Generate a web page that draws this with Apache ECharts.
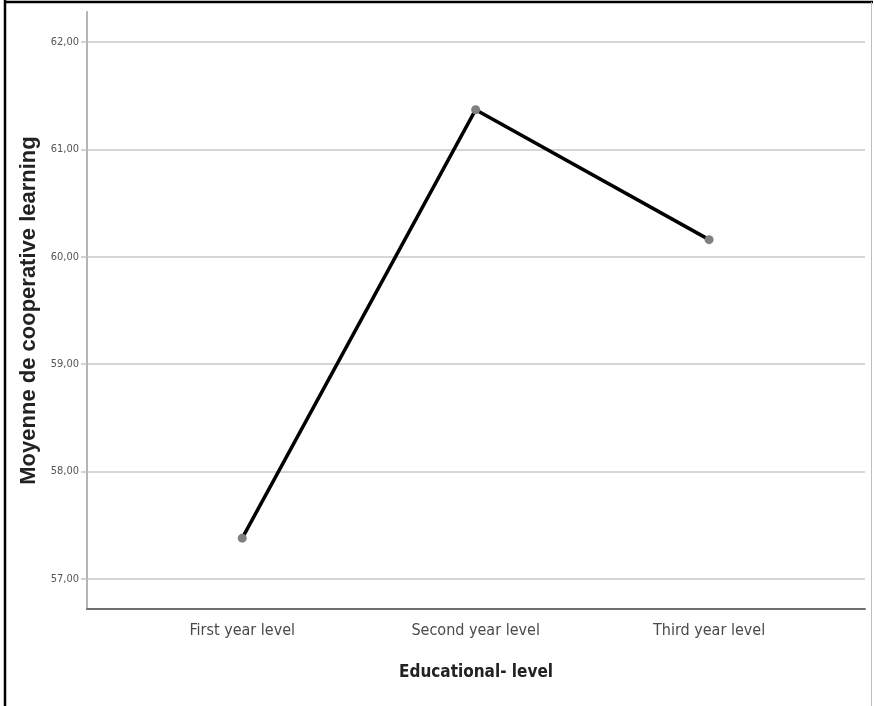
<!DOCTYPE html>
<html>
<head>
<meta charset="utf-8">
<script src="https://cdn.jsdelivr.net/npm/echarts@6/dist/echarts.min.js"></script>
<style>
html,body{margin:0;padding:0;background:#fff;}
#chart{width:874px;height:706px;}
</style>
</head>
<body>
<div id="chart"></div>
<script>
var categories = ['First year level', 'Second year level', 'Third year level'];
var means = [57.38, 61.37, 60.16];
var yTicks = [57, 58, 59, 60, 61, 62];
var yTickLabels = ['57,00', '58,00', '59,00', '60,00', '61,00', '62,00'];
var xTitle = 'Educational- level';
var yTitle = 'Moyenne de cooperative learning';

var points = categories.map(function (c, i) { return [i, means[i]]; });
var narrow = "'Liberation Sans Narrow', 'DejaVu Sans Condensed', 'Arial Narrow', sans-serif";

var chart = echarts.init(document.getElementById('chart'), null, {renderer: 'canvas'});
chart.setOption({
  backgroundColor: '#ffffff',
  animation: false,
  grid: {left: 87, right: 9, top: 12, bottom: 97},
  xAxis: {
    type: 'value',
    min: -0.665,
    max: 2.668,
    name: xTitle,
    nameLocation: 'middle',
    nameGap: 55,
    nameTextStyle: {fontFamily: narrow, fontWeight: 'bold', fontSize: 17, color: '#222'},
    axisLine: {show: true, onZero: false, lineStyle: {color: '#6e6e6e', width: 2}},
    axisTick: {show: false},
    splitLine: {show: false},
    axisLabel: {
      customValues: [0, 1, 2],
      formatter: function (v) { return categories[Math.round(v)]; },
      fontFamily: narrow, fontSize: 16, color: '#4a4a4a', margin: 14
    }
  },
  yAxis: {
    type: 'value',
    min: 56.72,
    max: 62.28,
    name: yTitle,
    nameLocation: 'middle',
    nameGap: 45,
    nameTextStyle: {fontFamily: "'Liberation Sans', Arial, sans-serif", fontWeight: 'bold', fontSize: 22, color: '#222'},
    axisLine: {show: true, onZero: false, lineStyle: {color: '#b4b4b4', width: 2}},
    axisTick: {show: true, customValues: yTicks, length: 6, lineStyle: {color: '#c4c4c4', width: 1.5}},
    splitLine: {show: true, showMinLine: true, showMaxLine: true, lineStyle: {color: '#c8c8c8', width: 1.5}},
    axisLabel: {
      customValues: yTicks,
      formatter: function (v) { var k = yTicks.indexOf(Math.round(v)); return k >= 0 ? yTickLabels[k] : ''; },
      fontFamily: narrow, fontSize: 11, color: '#555', margin: 8
    }
  },
  series: [{
    type: 'line',
    data: points,
    lineStyle: {color: '#000', width: 3.5},
    symbol: 'circle',
    symbolSize: 9,
    itemStyle: {color: '#808080'},
    z: 3
  }],
  graphic: [
    {type: 'line', shape: {x1: 5, y1: 0, x2: 5, y2: 706}, style: {stroke: '#000', lineWidth: 2.5}, silent: true},
    {type: 'line', shape: {x1: 4, y1: 2, x2: 873, y2: 2}, style: {stroke: '#000', lineWidth: 2.5}, silent: true},
    {type: 'line', shape: {x1: 871.5, y1: 2, x2: 871.5, y2: 706}, style: {stroke: '#bdbdbd', lineWidth: 1}, silent: true}
  ]
});
</script>
</body>
</html>
